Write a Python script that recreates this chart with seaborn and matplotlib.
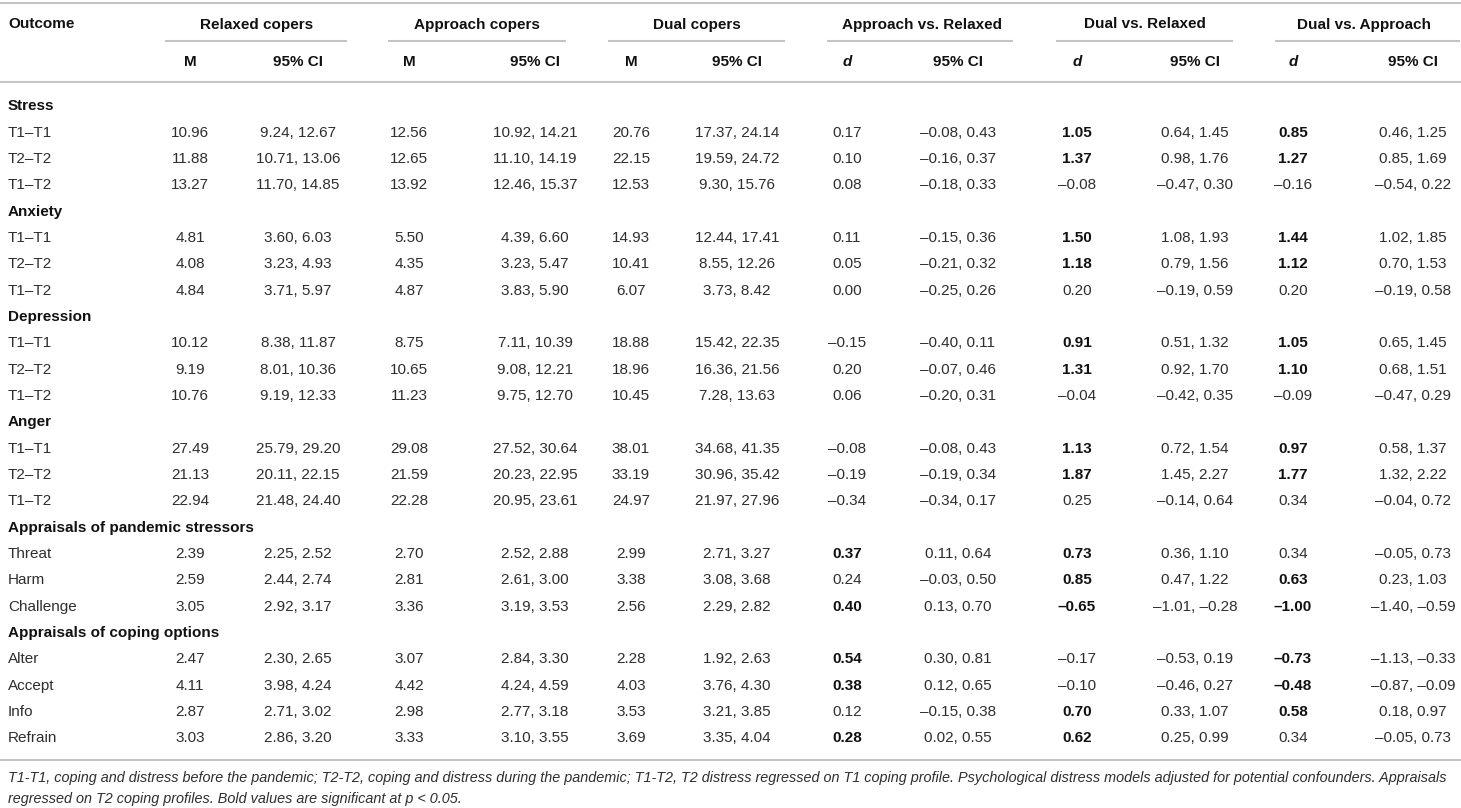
import matplotlib
matplotlib.use("Agg")
import matplotlib.pyplot as plt
import seaborn as sns
import pandas as pd

# ---- table content ----
sections = ["Stress", "Anxiety", "Depression", "Anger",
            "Appraisals of pandemic stressors", "Appraisals of coping options"]
section_rows = [
    ["T1\u2013T1", "T2\u2013T2", "T1\u2013T2"],
    ["T1\u2013T1", "T2\u2013T2", "T1\u2013T2"],
    ["T1\u2013T1", "T2\u2013T2", "T1\u2013T2"],
    ["T1\u2013T1", "T2\u2013T2", "T1\u2013T2"],
    ["Threat", "Harm", "Challenge"],
    ["Alter", "Accept", "Info", "Refrain"],
]

relaxed_m = [10.96, 11.88, 13.27, 4.81, 4.08, 4.84, 10.12, 9.19, 10.76, 27.49, 21.13, 22.94,
             2.39, 2.59, 3.05, 2.47, 4.11, 2.87, 3.03]
relaxed_ci = [(9.24, 12.67), (10.71, 13.06), (11.70, 14.85), (3.60, 6.03), (3.23, 4.93), (3.71, 5.97),
              (8.38, 11.87), (8.01, 10.36), (9.19, 12.33), (25.79, 29.20), (20.11, 22.15), (21.48, 24.40),
              (2.25, 2.52), (2.44, 2.74), (2.92, 3.17), (2.30, 2.65), (3.98, 4.24), (2.71, 3.02), (2.86, 3.20)]

approach_m = [12.56, 12.65, 13.92, 5.50, 4.35, 4.87, 8.75, 10.65, 11.23, 29.08, 21.59, 22.28,
              2.70, 2.81, 3.36, 3.07, 4.42, 2.98, 3.33]
approach_ci = [(10.92, 14.21), (11.10, 14.19), (12.46, 15.37), (4.39, 6.60), (3.23, 5.47), (3.83, 5.90),
               (7.11, 10.39), (9.08, 12.21), (9.75, 12.70), (27.52, 30.64), (20.23, 22.95), (20.95, 23.61),
               (2.52, 2.88), (2.61, 3.00), (3.19, 3.53), (2.84, 3.30), (4.24, 4.59), (2.77, 3.18), (3.10, 3.55)]

dual_m = [20.76, 22.15, 12.53, 14.93, 10.41, 6.07, 18.88, 18.96, 10.45, 38.01, 33.19, 24.97,
          2.99, 3.38, 2.56, 2.28, 4.03, 3.53, 3.69]
dual_ci = [(17.37, 24.14), (19.59, 24.72), (9.30, 15.76), (12.44, 17.41), (8.55, 12.26), (3.73, 8.42),
           (15.42, 22.35), (16.36, 21.56), (7.28, 13.63), (34.68, 41.35), (30.96, 35.42), (21.97, 27.96),
           (2.71, 3.27), (3.08, 3.68), (2.29, 2.82), (1.92, 2.63), (3.76, 4.30), (3.21, 3.85), (3.35, 4.04)]

avr_d = [0.17, 0.10, 0.08, 0.11, 0.05, 0.00, -0.15, 0.20, 0.06, -0.08, -0.19, -0.34,
         0.37, 0.24, 0.40, 0.54, 0.38, 0.12, 0.28]
avr_ci = [(-0.08, 0.43), (-0.16, 0.37), (-0.18, 0.33), (-0.15, 0.36), (-0.21, 0.32), (-0.25, 0.26),
          (-0.40, 0.11), (-0.07, 0.46), (-0.20, 0.31), (-0.08, 0.43), (-0.19, 0.34), (-0.34, 0.17),
          (0.11, 0.64), (-0.03, 0.50), (0.13, 0.70), (0.30, 0.81), (0.12, 0.65), (-0.15, 0.38), (0.02, 0.55)]
avr_bold = [0, 0, 0, 0, 0, 0, 0, 0, 0, 0, 0, 0, 1, 0, 1, 1, 1, 0, 1]

dvr_d = [1.05, 1.37, -0.08, 1.50, 1.18, 0.20, 0.91, 1.31, -0.04, 1.13, 1.87, 0.25,
         0.73, 0.85, -0.65, -0.17, -0.10, 0.70, 0.62]
dvr_ci = [(0.64, 1.45), (0.98, 1.76), (-0.47, 0.30), (1.08, 1.93), (0.79, 1.56), (-0.19, 0.59),
          (0.51, 1.32), (0.92, 1.70), (-0.42, 0.35), (0.72, 1.54), (1.45, 2.27), (-0.14, 0.64),
          (0.36, 1.10), (0.47, 1.22), (-1.01, -0.28), (-0.53, 0.19), (-0.46, 0.27), (0.33, 1.07), (0.25, 0.99)]
dvr_bold = [1, 1, 0, 1, 1, 0, 1, 1, 0, 1, 1, 0, 1, 1, 1, 0, 0, 1, 1]

dva_d = [0.85, 1.27, -0.16, 1.44, 1.12, 0.20, 1.05, 1.10, -0.09, 0.97, 1.77, 0.34,
         0.34, 0.63, -1.00, -0.73, -0.48, 0.58, 0.34]
dva_ci = [(0.46, 1.25), (0.85, 1.69), (-0.54, 0.22), (1.02, 1.85), (0.70, 1.53), (-0.19, 0.58),
          (0.65, 1.45), (0.68, 1.51), (-0.47, 0.29), (0.58, 1.37), (1.32, 2.22), (-0.04, 0.72),
          (-0.05, 0.73), (0.23, 1.03), (-1.40, -0.59), (-1.13, -0.33), (-0.87, -0.09), (0.18, 0.97), (-0.05, 0.73)]
dva_bold = [1, 1, 0, 1, 1, 0, 1, 1, 0, 1, 1, 0, 0, 1, 1, 1, 1, 1, 0]

groups = ["Relaxed copers", "Approach copers", "Dual copers",
          "Approach vs. Relaxed", "Dual vs. Relaxed", "Dual vs. Approach"]
sub_first = ["M", "M", "M", "d", "d", "d"]

footnote = ["T1-T1, coping and distress before the pandemic; T2-T2, coping and distress during the pandemic; "
            "T1-T2, T2 distress regressed on T1 coping profile. Psychological distress models adjusted for "
            "potential confounders. Appraisals",
            "regressed on T2 coping profiles. Bold values are significant at p < 0.05."]

# ---- layout (pixels) ----
W, H = 1461, 808
val_x = [190, 409, 631, 847, 1077, 1293]
ci_x = [298, 535, 737, 958, 1195, 1413]
grp_x = [257, 477, 697, 922, 1145, 1364]
grp_lines = [(165, 347), (388, 566), (608, 785), (827, 1013), (1056, 1233), (1275, 1460)]
y0, dy = 105, 26.33
FS = 11
BASE = 5.5
TXT = "#2e2e2e"
RULE = "#c4c4c4"


def fmt(v):
    s = f"{abs(v):.2f}"
    return ("\u2013" + s) if v < 0 else s


def fmt_ci(ci):
    return f"{fmt(ci[0])}, {fmt(ci[1])}"


sns.set_theme(style="white")
plt.rcParams['font.family'] = ['Liberation Sans', 'DejaVu Sans']

fig = plt.figure(figsize=(W / 100, H / 100), dpi=100)
ax = fig.add_axes([0, 0, 1, 1])
ax.set_xlim(0, W)
ax.set_ylim(H, 0)
ax.axis("off")

# rules
ax.hlines([3, 82, 760], 0, W, color=RULE, lw=1.5)
for a, b in grp_lines:
    ax.hlines(41, a, b, color=RULE, lw=1.5)

# header
ax.text(8, 23 + BASE, "Outcome", fontsize=FS, fontweight="bold", color="#111", va="baseline")
for g, gx, s, vx, cx in zip(groups, grp_x, sub_first, val_x, ci_x):
    ax.text(gx, 23 + BASE, g, fontsize=FS, fontweight="bold", color="#111", ha="center", va="baseline")
    ax.text(vx, 60 + BASE, s, fontsize=FS, fontweight="bold", color="#111", ha="center", va="baseline",
            fontstyle="italic" if s == "d" else "normal")
    ax.text(cx, 60 + BASE, "95% CI", fontsize=FS, fontweight="bold", color="#111", ha="center", va="baseline")

df = pd.DataFrame({
    "relaxed_m": relaxed_m, "relaxed_ci": relaxed_ci,
    "approach_m": approach_m, "approach_ci": approach_ci,
    "dual_m": dual_m, "dual_ci": dual_ci,
    "avr_d": avr_d, "avr_ci": avr_ci, "avr_b": avr_bold,
    "dvr_d": dvr_d, "dvr_ci": dvr_ci, "dvr_b": dvr_bold,
    "dva_d": dva_d, "dva_ci": dva_ci, "dva_b": dva_bold,
})

line = 0
k = 0
for sec, rows in zip(sections, section_rows):
    y = y0 + line * dy
    ax.text(8, y + BASE, sec, fontsize=FS, fontweight="bold", color="#111", va="baseline")
    line += 1
    for lab in rows:
        y = y0 + line * dy + BASE
        r = df.iloc[k]
        ax.text(8, y, lab, fontsize=FS, color=TXT, va="baseline")
        cells = [(fmt(r.relaxed_m), fmt_ci(r.relaxed_ci), 0),
                 (fmt(r.approach_m), fmt_ci(r.approach_ci), 0),
                 (fmt(r.dual_m), fmt_ci(r.dual_ci), 0),
                 (fmt(r.avr_d), fmt_ci(r.avr_ci), r.avr_b),
                 (fmt(r.dvr_d), fmt_ci(r.dvr_ci), r.dvr_b),
                 (fmt(r.dva_d), fmt_ci(r.dva_ci), r.dva_b)]
        for (v, c, b), vx, cx in zip(cells, val_x, ci_x):
            ax.text(vx, y, v, fontsize=FS, ha="center", va="baseline",
                    fontweight="bold" if b else "normal", color="#111" if b else TXT)
            ax.text(cx, y, c, fontsize=FS, ha="center", va="baseline", color=TXT)
        line += 1
        k += 1

# footnote
ax.text(8, 782, footnote[0], fontsize=10.4, fontstyle="italic", color=TXT, va="baseline")
ax.text(8, 803, footnote[1], fontsize=10.4, fontstyle="italic", color=TXT, va="baseline")

fig.savefig("out.png", dpi=100, facecolor="white")
